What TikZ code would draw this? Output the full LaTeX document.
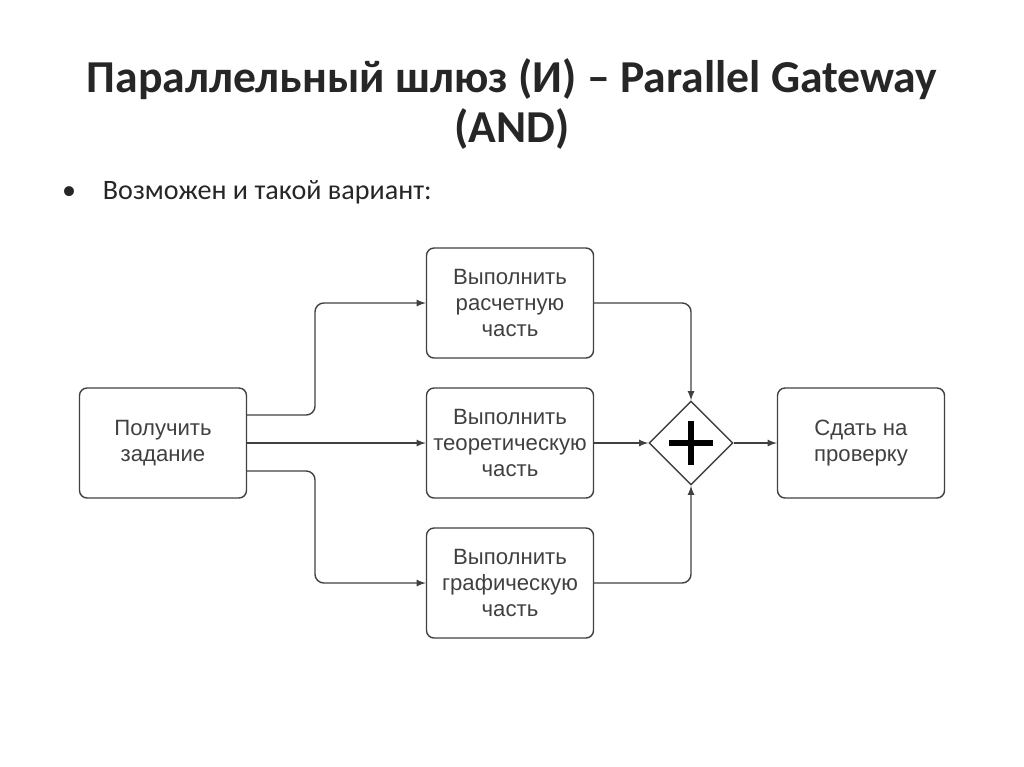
\documentclass[tikz,border=0pt]{standalone}
\usepackage{fontspec}
\setmainfont{Carlito}
\newfontfamily\boxfont{Liberation Sans}
\usetikzlibrary{shapes.geometric}
\usetikzlibrary{positioning}
\begin{document}
\begin{tikzpicture}[x=0.02cm,y=-0.02cm,>=latex,
zadacha/.style={rectangle,minimum width=3.34cm,minimum height=2.2cm,rounded corners=1.5mm,thick,draw=black!75,
 align=center,inner sep=1pt,font=\boxfont\fontsize{12.6}{15}\selectfont,text=black!75},
shluz/.style={diamond,minimum size=1.68cm,inner sep=0pt,thick,draw=black!75},
strelka/.style={->,thick,draw=black!75,rounded corners=5pt}]
\useasboundingbox (0,0) rectangle (1024,767);
\node[font=\bfseries\fontsize{26}{28}\selectfont,align=center,text=black!85] (zagolovok) at (512,104)
 {Параллельный шлюз (И) -- Parallel Gateway\\(AND)};
\node[anchor=west,font=\fontsize{16}{18}\selectfont,text=black!85] (punkt) at (56,192)
 {\makebox[1.45em][l]{•}Возможен и такой вариант:};
% задачи
\node[zadacha] (poluchit) at (163,443) {Получить\\задание};
\node[zadacha] (raschet) at (510,303) {Выполнить\\расчетную\\часть};
\node[zadacha] (teoria) at (510,443) {Выполнить\\теоретическую\\часть};
\node[zadacha] (grafika) at (510,583) {Выполнить\\графическую\\часть};
\node[shluz] (and) at (691,443) {};
\draw[line width=3pt] (and.center) ++(-22,0) -- ++(44,0) (and.center) ++(0,-22) -- ++(0,44);
\node[zadacha] (sdat) at (861,443) {Сдать на\\проверку};
\coordinate (razv1) at (315,415);
\coordinate (razv2) at (315,471);
\begin{scope}[strelka]
 \draw (poluchit.east|-razv1) -- (razv1) |- (raschet);
 \draw (poluchit) -- (teoria);
 \draw (poluchit.east|-razv2) -- (razv2) |- (grafika);
 \draw (raschet) -| (and.north);
 \draw (grafika) -| (and.south);
 \draw (teoria) -- (and);
 \draw (and) -- (sdat);
\end{scope}
\end{tikzpicture}
\end{document}
